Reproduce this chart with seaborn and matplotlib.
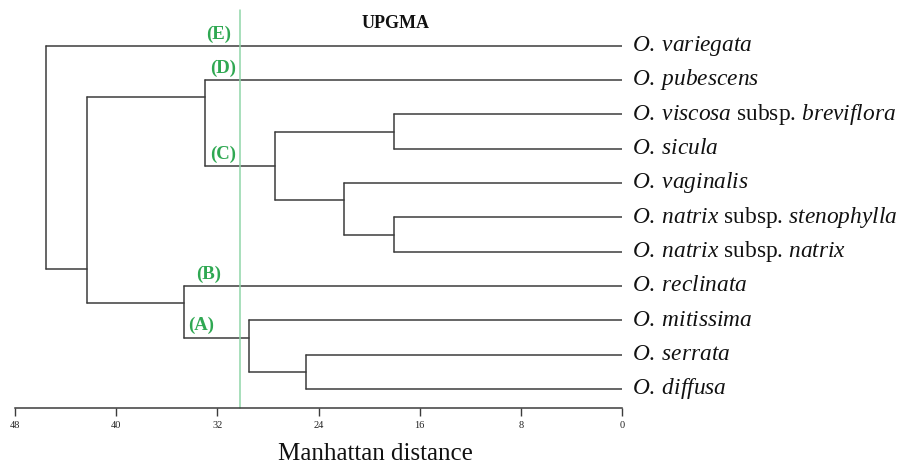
import numpy as np
import pandas as pd
import matplotlib
matplotlib.use('Agg')
import matplotlib.pyplot as plt
import seaborn as sns

# leaves, top to bottom
leaf_names = [
    r'$\mathit{O.\:variegata}$',
    r'$\mathit{O.\:pubescens}$',
    r'$\mathit{O.\:viscosa}$ subsp. $\mathit{breviflora}$',
    r'$\mathit{O.\:sicula}$',
    r'$\mathit{O.\:vaginalis}$',
    r'$\mathit{O.\:natrix}$ subsp. $\mathit{stenophylla}$',
    r'$\mathit{O.\:natrix}$ subsp. $\mathit{natrix}$',
    r'$\mathit{O.\:reclinata}$',
    r'$\mathit{O.\:mitissima}$',
    r'$\mathit{O.\:serrata}$',
    r'$\mathit{O.\:diffusa}$',
]

# merges (scipy style: <11 is a leaf, 11+k is merge k)
merge_left = [2, 5, 9, 4, 11, 8, 1, 7, 17, 0]
merge_right = [3, 6, 10, 12, 14, 13, 15, 16, 18, 19]
merge_dist = [18.0, 18.0, 25.0, 22.0, 27.4, 29.5, 33.0, 34.6, 42.3, 45.5]

cut_dist = 30.2
clade_names = ['(E)', '(D)', '(C)', '(B)', '(A)']
clade_node = [0, 1, 15, 7, 16]          # branch each label sits on
clade_x = [31.9, 31.55, 31.55, 32.7, 33.3]

x_ticks = [48, 40, 32, 24, 16, 8, 0]

n = len(leaf_names)

# layout of nodes: stem y sits on the boundary between the two children
stem_y = {i: float(i) for i in range(n)}
lo = {i: i for i in range(n)}
hi = {i: i for i in range(n)}
node_x = {i: 0.0 for i in range(n)}
rows = []
seg = 0
for k, (a, b, d) in enumerate(zip(merge_left, merge_right, merge_dist)):
    node = n + k
    lo[node], hi[node] = lo[a], hi[b]
    stem_y[node] = hi[a] + 0.5
    node_x[node] = d
    for c in (a, b):
        rows += [(seg, node_x[c], stem_y[c]), (seg, d, stem_y[c])]
        seg += 1
    rows += [(seg, d, stem_y[a]), (seg, d, stem_y[b])]
    seg += 1
seg_df = pd.DataFrame(rows, columns=['seg', 'x', 'y'])

sns.set_theme(style='white')
plt.rcParams['font.family'] = ['Liberation Serif', 'DejaVu Serif']
plt.rcParams['mathtext.fontset'] = 'custom'
plt.rcParams['mathtext.rm'] = 'Liberation Serif'
plt.rcParams['mathtext.it'] = 'Liberation Serif:italic'

W, H = 904, 467
px_left, px_right, px_bot, px_top = 14.7, 622.3, 408, 5
leaf_top, leaf_step = 45.7, 34.33

fig = plt.figure(figsize=(W / 100, H / 100), dpi=100)
ax = fig.add_axes([px_left / W, 1 - px_bot / H, (px_right - px_left) / W, (px_bot - px_top) / H])

sns.lineplot(data=seg_df, x='x', y='y', units='seg', estimator=None, sort=False,
             color='#3c3c3c', linewidth=1.1, ax=ax, legend=False)

ax.set_xlim(48, 0)
y_bot = (px_bot - leaf_top) / leaf_step
y_top = (px_top - leaf_top) / leaf_step
ax.set_ylim(y_bot, y_top)

# cut line
ax.plot([cut_dist, cut_dist], [(10 - leaf_top) / leaf_step, y_bot], color='#8fd6a8',
        linewidth=1.1, clip_on=False)

for name, node, cx in zip(clade_names, clade_node, clade_x):
    ax.text(cx, stem_y[node] - 0.09, name, color='#2fa852', fontsize=13.5, fontweight='bold',
            ha='center', va='bottom')

for i, name in enumerate(leaf_names):
    ax.text(-0.79, i + 0.155, name, fontsize=16.8, ha='left', va='baseline',
            color='#111111', clip_on=False)

ax.text(17.9, (28 - leaf_top) / leaf_step, 'UPGMA', fontsize=13, fontweight='bold',
        ha='center', va='baseline', color='#111111')

for s in ['top', 'left', 'right']:
    ax.spines[s].set_visible(False)
ax.spines['bottom'].set_color('#3c3c3c')
ax.spines['bottom'].set_linewidth(1.1)
ax.set_xticks(x_ticks)
ax.set_xticklabels([str(t) for t in x_ticks])
ax.tick_params(axis='x', bottom=True, direction='out', length=6, width=1.0,
               color='#3c3c3c', labelsize=7.5, pad=3, labelcolor='#222222')
ax.set_yticks([])
ax.set_xlabel('')
ax.set_ylabel('')
ax.patch.set_alpha(0)

fig.text(375 / W, 1 - 460 / H, 'Manhattan distance', fontsize=18, ha='center',
         va='baseline', color='#111111')

fig.savefig('out.png', dpi=100, facecolor='white')
